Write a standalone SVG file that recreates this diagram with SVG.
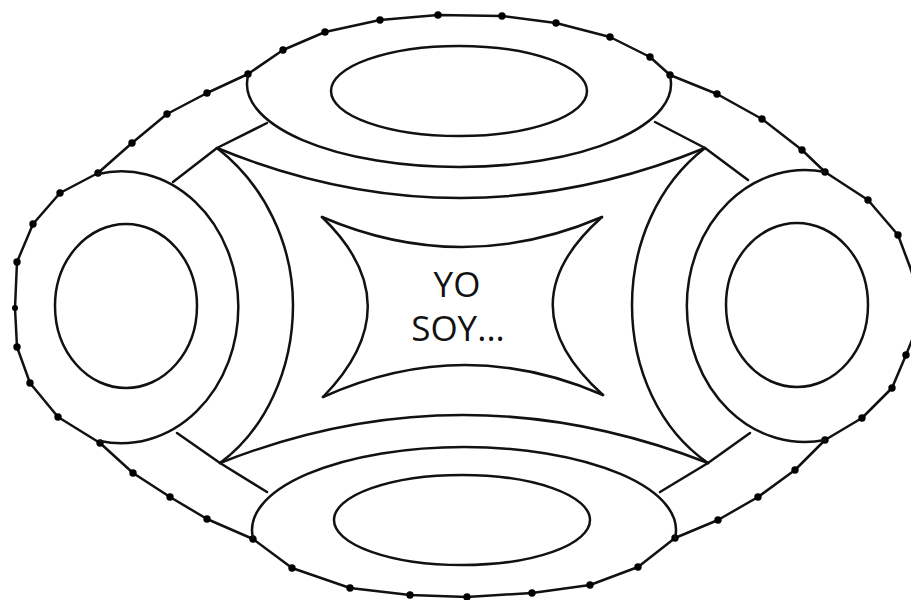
<svg xmlns="http://www.w3.org/2000/svg" width="911" height="600" viewBox="0 0 911 600">
<style>
.ln{fill:none;stroke:#111;stroke-width:2.5;stroke-linecap:round;stroke-linejoin:round}
.bd{fill:none;stroke:#111;stroke-width:2.5;stroke-linejoin:round}
.dot{fill:#000}
.tx{font-family:"Open Sans","Liberation Sans",sans-serif;font-size:35px;fill:#111;text-anchor:middle}
</style>
<rect width="911" height="600" fill="#fff"/>
<g id="border">
<polygon class="bd" points="438,15 502,16 556,23 610,37 650,57 670,75 717,94 762,119 802,150 825,172 868,200 898,235 910,267 924,310 906,355 892,388 862,418 825,440 795,470 758,497 718,520 675,538 638,567 590,585 532,593 467,597 410,595 350,588 292,568 253,539 207,519 170,497 133,473 100,443 58,417 30,383 17,347 15,308 17,262 33,224 60,193 98,173 132,143 167,114 207,93 248,74 283,50 325,32 380,20"/>
<g class="dot">
<circle cx="438" cy="15" r="3.7"/><circle cx="502" cy="16" r="3.7"/><circle cx="556" cy="23" r="3.7"/><circle cx="610" cy="37" r="3.7"/><circle cx="650" cy="57" r="3.7"/><circle cx="670" cy="75" r="3.7"/><circle cx="717" cy="94" r="3.7"/><circle cx="762" cy="119" r="3.7"/><circle cx="802" cy="150" r="3.7"/><circle cx="825" cy="172" r="3.7"/><circle cx="868" cy="200" r="3.7"/><circle cx="898" cy="235" r="3.7"/><circle cx="906" cy="355" r="3.7"/><circle cx="892" cy="388" r="3.7"/><circle cx="862" cy="418" r="3.7"/><circle cx="825" cy="440" r="3.7"/><circle cx="795" cy="470" r="3.7"/><circle cx="758" cy="497" r="3.7"/><circle cx="718" cy="520" r="3.7"/><circle cx="675" cy="538" r="3.7"/><circle cx="638" cy="567" r="3.7"/><circle cx="590" cy="585" r="3.7"/><circle cx="532" cy="593" r="3.7"/><circle cx="467" cy="597" r="3.7"/><circle cx="410" cy="595" r="3.7"/><circle cx="350" cy="588" r="3.7"/><circle cx="292" cy="568" r="3.7"/><circle cx="253" cy="539" r="3.7"/><circle cx="207" cy="519" r="3.7"/><circle cx="170" cy="497" r="3.7"/><circle cx="133" cy="473" r="3.7"/><circle cx="100" cy="443" r="3.7"/><circle cx="58" cy="417" r="3.7"/><circle cx="30" cy="383" r="3.7"/><circle cx="17" cy="347" r="3.7"/><circle cx="15" cy="308" r="3"/><circle cx="17" cy="262" r="3.7"/><circle cx="33" cy="224" r="3.7"/><circle cx="60" cy="193" r="3.7"/><circle cx="98" cy="173" r="3.7"/><circle cx="132" cy="143" r="3.7"/><circle cx="167" cy="114" r="3.7"/><circle cx="207" cy="93" r="3.7"/><circle cx="248" cy="74" r="3.7"/><circle cx="283" cy="50" r="3.7"/><circle cx="325" cy="32" r="3.7"/><circle cx="380" cy="20" r="3.7"/>
</g>
</g>
<g id="top-ring">
<path class="ln" d="M248,76 A212,83 0 1 0 670,76"/>
<ellipse class="ln" cx="459" cy="91" rx="128" ry="45"/>
</g>
<g id="bottom-ring">
<path class="ln" d="M253,538 A212,83 0 1 1 675,538"/>
<ellipse class="ln" cx="462" cy="520" rx="128" ry="45"/>
</g>
<g id="left-ring">
<path class="ln" d="M98,174 A117,136 0 1 1 100,441"/>
<ellipse class="ln" cx="126" cy="306" rx="71" ry="82"/>
</g>
<g id="right-ring">
<path class="ln" d="M825,172 A118,136 0 1 0 825,440"/>
<ellipse class="ln" cx="797" cy="305" rx="71" ry="82"/>
</g>
<g id="band">
<polyline class="ln" points="267,123 217,148 173,182"/>
<polyline class="ln" points="655,122 705,148 748,180"/>
<polyline class="ln" points="177,433 220,463 267,492"/>
<polyline class="ln" points="660,492 708,463 750,433"/>
<path class="ln" d="M217,148 Q460,248 705,148"/>
<path class="ln" d="M220,463 Q462,367 708,463"/>
<path class="ln" d="M217,148 C265,185 293,245 293,305 C293,370 265,430 220,463"/>
<path class="ln" d="M705,148 C657,185 632,245 632,305 C632,370 660,430 708,463"/>
</g>
<g id="center">
<path class="ln" d="M322,217 Q462,277 602,217"/>
<path class="ln" d="M323,397 Q463,334 603,395"/>
<path class="ln" d="M322,217 Q413,305 323,397"/>
<path class="ln" d="M602,217 Q503,305 603,395"/>
<text class="tx" x="457" y="297">YO</text>
<text class="tx" x="458" y="341">SOY...</text>
</g>
</svg>
